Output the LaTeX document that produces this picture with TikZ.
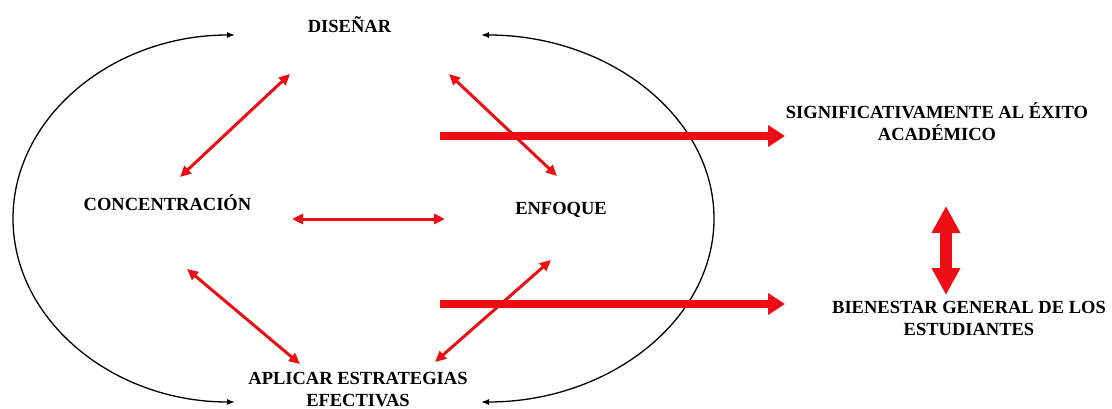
\documentclass[tikz,border=0pt]{standalone}
\usepackage{fontspec}
\setmainfont{Liberation Serif}
\usetikzlibrary{arrows.meta}

\definecolor{linkred}{RGB}{236,14,20}

\tikzset{
    lbl/.style={font=\bfseries\fontsize{18.5}{22}\selectfont, align=center, inner sep=0pt, anchor=base},
    link/.style={draw=linkred, line width=3pt, {Triangle[length=11pt,width=10pt]}-{Triangle[length=11pt,width=10pt]}},
    bigarrow/.style={draw=linkred, line width=7.5pt, -{Triangle[length=17pt,width=21pt]}},
    cyclearc/.style={draw=black, line width=1.3pt, {Latex[length=8pt,width=6pt]}-{Latex[length=8pt,width=6pt]}}
}

\begin{document}
\begin{tikzpicture}[x=1pt,y=1pt]
\useasboundingbox (0,0) rectangle (1112,408);

% Labels
\node[lbl] (disenar) at (349.5,375) {DISEÑAR};
\node[lbl] (concent) at (167.5,198) {CONCENTRACIÓN};
\node[lbl] (enfoque) at (561,194) {ENFOQUE};
\node[lbl] (aplicar) at (358,2) {APLICAR ESTRATEGIAS\\EFECTIVAS};
\node[lbl] (exito) at (937,268) {SIGNIFICATIVAMENTE AL ÉXITO\\ACADÉMICO};
\node[lbl] (bienestar) at (969,73) {BIENESTAR GENERAL DE LOS\\ESTUDIANTES};


% Outer cycle
\draw[cyclearc] (235,373) arc[start angle=90, end angle=270, x radius=222, y radius=183.5];
\draw[cyclearc] (481,373) arc[start angle=90, end angle=-90, x radius=233, y radius=183.5];


% Arrow ends
\coordinate (dc1) at (290,334);
\coordinate (dc2) at (180,231);
\coordinate (de1) at (449,334);
\coordinate (de2) at (557,232);
\coordinate (ce1) at (292,189);
\coordinate (ce2) at (445,189);
\coordinate (ca1) at (187,139);
\coordinate (ca2) at (300,44);
\coordinate (ea1) at (551,148);
\coordinate (ea2) at (435,46);

% Links between the four steps
\draw[link] (dc1) -- (dc2);
\draw[link] (de1) -- (de2);
\draw[link] (ce1) -- (ce2);
\draw[link] (ca1) -- (ca2);
\draw[link] (ea1) -- (ea2);


% Results
\coordinate (ex1) at (440,272);
\coordinate (ex2) at (785,272);
\coordinate (bi1) at (440,104);
\coordinate (bi2) at (785,104);
\draw[bigarrow] (ex1) -- (ex2);
\draw[bigarrow] (bi1) -- (bi2);

% Between both results
\coordinate (rb1) at (946,202);
\coordinate (rb2) at (946,113);
\draw[draw=linkred, line width=12pt, {Triangle[length=27pt,width=27pt]}-{Triangle[length=27pt,width=27pt]}] (rb1) -- (rb2);

\end{tikzpicture}
\end{document}
